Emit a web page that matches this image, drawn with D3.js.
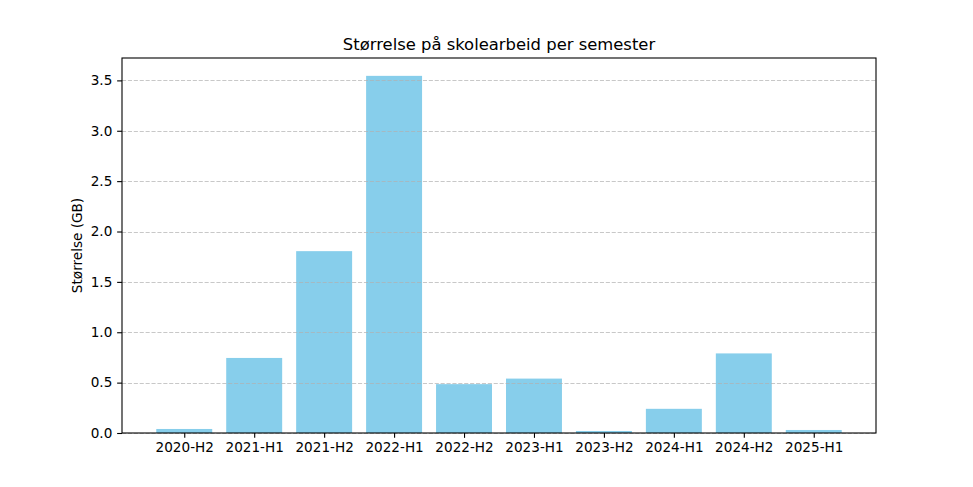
<!DOCTYPE html>
<html><head><meta charset="utf-8">
<script src="https://cdn.jsdelivr.net/npm/d3@7"></script>
<style>body{margin:0;background:#fff}svg{display:block}text{font-family:"DejaVu Sans",sans-serif;fill:#000}</style>
</head><body><svg id="c" width="973" height="487"></svg>
<script>
const categories = ["2020-H2","2021-H1","2021-H2","2022-H1","2022-H2","2023-H1","2023-H2","2024-H1","2024-H2","2025-H1"];
const sizesGB = [0.04, 0.745, 1.805, 3.545, 0.485, 0.54, 0.02, 0.24, 0.79, 0.03];
const yTicks = [0, 0.5, 1.0, 1.5, 2.0, 2.5, 3.0, 3.5];
const titleText = "Størrelse på skolearbeid per semester";
const yLabel = "Størrelse (GB)";

const svg = d3.select("#c");
const L = 122, R = 876, T = 58, B = 433;
const maxV = d3.max(sizesGB) * 1.05;
const y = d3.scaleLinear().domain([0, maxV]).range([B, T]);
const n = categories.length;
const pad = (n - 1 + 0.8) * 0.05;
const x = d3.scaleLinear().domain([-0.4 - pad, n - 1 + 0.4 + pad]).range([L, R]);

// bars
svg.append("g").selectAll("rect").data(sizesGB).join("rect")
  .attr("x", (d, i) => x(i - 0.4)).attr("width", x(0.8) - x(0))
  .attr("y", d => y(d)).attr("height", d => y(0) - y(d))
  .attr("fill", "#87CEEB");

// grid (over bars)
svg.append("g").selectAll("line").data(yTicks).join("line")
  .attr("x1", L).attr("x2", R).attr("y1", d => Math.round(y(d)) + 0.5).attr("y2", d => Math.round(y(d)) + 0.5)
  .attr("stroke", "#b0b0b0").attr("stroke-opacity", 0.7).attr("stroke-width", 1.1)
  .attr("stroke-dasharray", "4.1,1.8");

// axes
const yAxis = d3.axisLeft(y).tickValues(yTicks).tickFormat(d3.format(".1f")).tickSize(4.86).tickPadding(4.86);
const gy = svg.append("g").attr("transform", `translate(${L},0)`).call(yAxis);
const xAxis = d3.axisBottom(x).tickValues(d3.range(n)).tickFormat(i => categories[i]).tickSize(4.86).tickPadding(4.86);
const gx = svg.append("g").attr("transform", `translate(0,${B})`).call(xAxis);
[gy, gx].forEach(g => {
  g.select(".domain").remove();
  g.selectAll("text").attr("font-size", "13.6px").attr("font-family", '"DejaVu Sans",sans-serif').attr("fill", "#000");
  g.selectAll(".tick line").attr("stroke", "#000").attr("stroke-width", 1.1);
});

// frame
svg.append("rect").attr("x", L).attr("y", T).attr("width", R - L).attr("height", B - T)
  .attr("fill", "none").attr("stroke", "#000").attr("stroke-width", 1.1);

// title
svg.append("text").attr("x", (L + R) / 2).attr("y", T - 8).attr("text-anchor", "middle")
  .attr("font-size", "16.4px").text(titleText);
// y label
svg.append("text").attr("transform", `translate(82,${(T + B) / 2}) rotate(-90)`)
  .attr("text-anchor", "middle").attr("font-size", "13.6px").text(yLabel);
</script></body></html>
